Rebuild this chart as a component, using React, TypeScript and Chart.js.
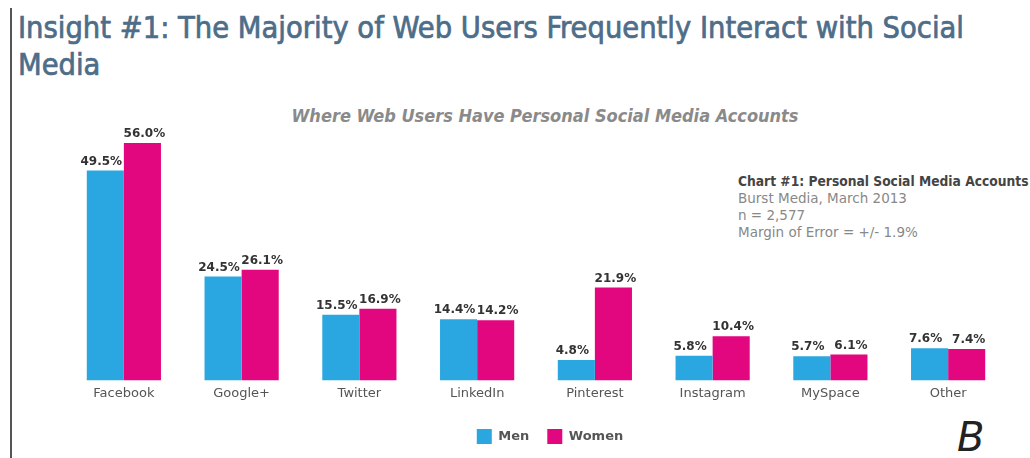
import React, { useEffect, useRef } from "react";
import { Chart, registerables } from "chart.js";

Chart.register(...registerables);

const categories = ["Facebook", "Google+", "Twitter", "LinkedIn", "Pinterest", "Instagram", "MySpace", "Other"];
const menValues = [49.5, 24.5, 15.5, 14.4, 4.8, 5.8, 5.7, 7.6];
const womenValues = [56.0, 26.1, 16.9, 14.2, 21.9, 10.4, 6.1, 7.4];
const seriesNames = ["Men", "Women"];
const titleLines = ["Insight #1: The Majority of Web Users Frequently Interact with Social", "Media"];
const chartSubtitle = "Where Web Users Have Personal Social Media Accounts";
const noteHeading = "Chart #1: Personal Social Media Accounts";
const noteLines = ["Burst Media, March 2013", "n = 2,577", "Margin of Error = +/- 1.9%"];

const MEN = "#2aa7e1";
const WOMEN = "#e2077f";

const valueLabels = {
  id: "valueLabels",
  afterDatasetsDraw(chart: any) {
    const ctx = chart.ctx;
    ctx.save();
    ctx.font = "bold 12px 'DejaVu Sans'";
    ctx.fillStyle = "#333";
    ctx.textAlign = "center";
    ctx.textBaseline = "bottom";
    chart.data.datasets.forEach((ds: any, di: number) => {
      const meta = chart.getDatasetMeta(di);
      meta.data.forEach((bar: any, i: number) => {
        const off = di === 0 ? -4 : 2;
        ctx.fillText(ds.data[i].toFixed(1) + "%", bar.x + off, bar.y - 3);
      });
    });
    ctx.restore();
  },
};

const legendShift = {
  id: "legendShift",
  afterLayout(chart: any) {
    const lg = chart.legend;
    if (lg) {
      lg.left += 14;
      lg.right += 14;
    }
  },
};

export default function App() {
  const ref = useRef<HTMLCanvasElement | null>(null);
  useEffect(() => {
    if (!ref.current) return;
    const chart = new Chart(ref.current, {
      type: "bar",
      data: {
        labels: categories,
        datasets: [
          { label: seriesNames[0], data: menValues, backgroundColor: MEN, borderWidth: 0 },
          { label: seriesNames[1], data: womenValues, backgroundColor: WOMEN, borderWidth: 0 },
        ],
      },
      options: {
        animation: false,
        responsive: true,
        maintainAspectRatio: false,
        layout: { padding: { left: 65, right: 23, top: 126, bottom: 4 } },
        datasets: { bar: { barPercentage: 1, categoryPercentage: 0.63 } },
        scales: {
          x: {
            grid: { display: false, drawTicks: false },
            border: { display: false },
            ticks: { color: "#555", font: { family: "'DejaVu Sans'", size: 13 }, padding: 5 },
            afterFit(scale: any) {
              scale.height += 5;
            },
          },
          y: { display: false, min: 0, max: 60 },
        },
        plugins: {
          legend: {
            position: "bottom",
            labels: {
              boxWidth: 15,
              boxHeight: 15,
              padding: 18,
              color: "#555",
              font: { family: "'DejaVu Sans'", size: 13, weight: "bold" },
            },
          },
          tooltip: { enabled: false },
          title: { display: false },
        },
      },
      plugins: [valueLabels, legendShift],
    });
    return () => chart.destroy();
  }, []);

  return (
    <div style={{ position: "fixed", left: 0, top: 0, width: 1030, height: 458, background: "#fff", overflow: "hidden" }}>
      <div style={{ position: "absolute", left: 10, top: 8, width: 2, height: 450, background: "#555" }} />
      <div
        style={{
          position: "absolute",
          left: 18,
          top: 9,
          color: "#4d6d89",
          font: "30.5px 'DejaVu Sans Condensed', sans-serif",
          WebkitTextStroke: "0.7px #4d6d89",
          lineHeight: "37px",
          whiteSpace: "nowrap",
        }}
      >
        {titleLines.map((t, i) => (
          <div key={i}>{t}</div>
        ))}
      </div>
      <div
        style={{
          position: "absolute",
          left: 0,
          width: 1090,
          top: 105,
          textAlign: "center",
          color: "#8a8a8a",
          font: "italic bold 18px 'DejaVu Sans Condensed', sans-serif",
          whiteSpace: "nowrap",
        }}
      >
        {chartSubtitle}
      </div>
      <div style={{ position: "absolute", left: 738, top: 173, font: "13.5px 'DejaVu Sans', sans-serif", lineHeight: "17px", color: "#888", whiteSpace: "nowrap" }}>
        <div style={{ fontWeight: "bold", color: "#444", fontFamily: "'DejaVu Sans Condensed', sans-serif", fontSize: "13.7px" }}>{noteHeading}</div>
        {noteLines.map((t, i) => (
          <div key={i}>{t}</div>
        ))}
      </div>
      <div style={{ position: "absolute", left: 957, top: 414, font: "italic 40px 'DejaVu Sans', sans-serif", color: "#222" }}>B</div>
      <canvas ref={ref} style={{ position: "absolute", left: 0, top: 0, width: 1030, height: 458 }} />
    </div>
  );
}
